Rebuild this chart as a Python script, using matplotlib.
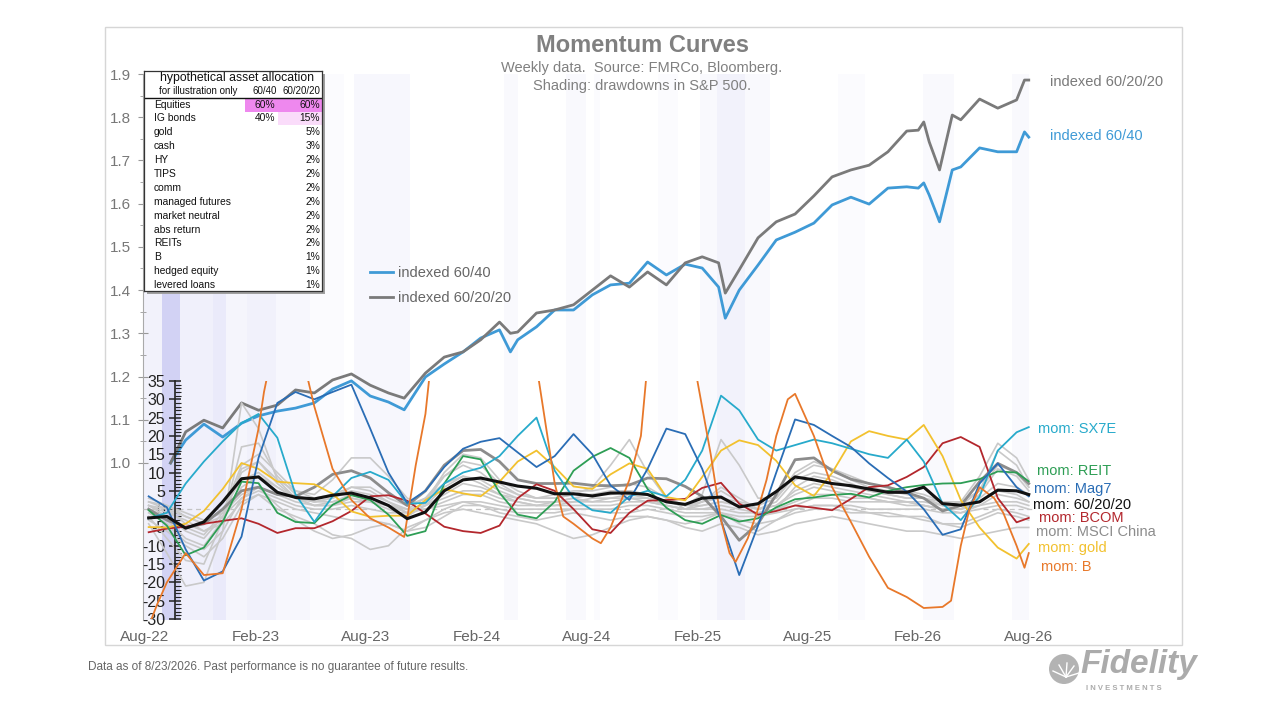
"""Momentum curves: indexed 60/40 vs 60/20/20 plus asset momentum lines."""

import matplotlib

matplotlib.use("Agg")
import matplotlib.pyplot as plt
import matplotlib.dates as mdates
import pandas as pd
from matplotlib.lines import Line2D
from matplotlib.patches import Circle, Rectangle
from matplotlib.ticker import FixedLocator, FormatStrFormatter, MultipleLocator
from matplotlib.transforms import IdentityTransform

plt.rcParams["font.family"] = ["Liberation Sans", "DejaVu Sans"]
plt.rcParams["axes.unicode_minus"] = False

W, H = 1280, 720

# ---------------------------------------------------------------- data
INDEX_DATES = [
    "2022-10-07", "2022-11-01", "2022-12-01", "2023-01-01", "2023-02-01",
    "2023-03-01", "2023-04-01", "2023-05-01", "2023-06-01", "2023-07-01",
    "2023-08-01", "2023-09-01", "2023-10-01", "2023-10-27", "2023-12-01",
    "2024-01-01", "2024-02-01", "2024-03-01", "2024-04-01", "2024-04-19",
    "2024-05-01", "2024-06-01", "2024-07-01", "2024-08-01", "2024-09-01",
    "2024-10-01", "2024-11-01", "2024-12-01", "2025-01-01", "2025-02-01",
    "2025-03-01", "2025-03-28", "2025-04-08", "2025-05-01", "2025-06-01",
    "2025-07-01", "2025-08-01", "2025-09-01", "2025-10-01", "2025-11-01",
    "2025-12-01", "2026-01-01", "2026-02-01", "2026-02-20", "2026-03-01",
    "2026-03-10", "2026-03-27", "2026-04-17", "2026-05-01", "2026-06-01",
    "2026-07-01", "2026-08-01", "2026-08-14", "2026-08-21",
]
INDEX_6040 = [
    1.000, 1.053, 1.090, 1.060, 1.092, 1.109, 1.120, 1.127, 1.139, 1.171,
    1.190, 1.155, 1.141, 1.123, 1.199, 1.229, 1.257, 1.289, 1.308, 1.257,
    1.285, 1.315, 1.354, 1.354, 1.389, 1.412, 1.416, 1.465, 1.435, 1.460,
    1.451, 1.407, 1.335, 1.400, 1.458, 1.516, 1.534, 1.555, 1.597, 1.615,
    1.599, 1.636, 1.639, 1.636, 1.648, 1.620, 1.558, 1.678, 1.685, 1.729,
    1.720, 1.720, 1.766, 1.754,
]
INDEX_602020 = [
    1.000, 1.072, 1.099, 1.081, 1.139, 1.122, 1.134, 1.169, 1.162, 1.192,
    1.206, 1.180, 1.162, 1.150, 1.208, 1.245, 1.257, 1.285, 1.326, 1.300,
    1.303, 1.347, 1.354, 1.366, 1.400, 1.433, 1.407, 1.442, 1.412, 1.463,
    1.477, 1.463, 1.393, 1.447, 1.521, 1.558, 1.576, 1.618, 1.662, 1.678,
    1.689, 1.720, 1.768, 1.770, 1.789, 1.743, 1.678, 1.805, 1.794, 1.842,
    1.821, 1.840, 1.886, 1.886,
]

# momentum series, monthly from Sep 2022 plus the last week
MOM_DATES = list(pd.date_range("2022-09-01", "2026-08-01", freq="MS")) + [
    pd.Timestamp("2026-08-21")
]
MOM_MAG7 = [3.5, 0.5, -11, -19.5, -17, -7.5, 14, 29, 32, 30,
            32, 34, 22, 10, 1.7, 5, 11.5, 16.5, 18.4, 19.4,
            15.5, 11.5, 14.5, 20.5, 15, 6.5, 2.5, 11, 22, 20.5,
            11, -3, -18, -4.5, 10, 24.5, 23, 20, 17, 12.5,
            8.5, 4.8, 0, -7, -5.5, 7, 12.5, 6, 3.5]
MOM_SX7E = [-2.5, -1, 7, 13, 18.5, 23.5, 26, 19.5, 4, -3.5,
            3.5, 8.5, 10.2, 8, 1.5, 1.7, 7, 10, 11.3, 14.5,
            20, 25, 10.5, 3, -0.3, -1, 3.5, 5, 3.5, 8,
            16, 31, 27, 19, 16, 17.5, 19, 18, 16.5, 15,
            14, 19, 13, 1.5, -3, 3.5, 16, 21, 22.4]
MOM_REIT = [-0.3, -4.5, -12.6, -10.5, -3.5, 7.5, 7.1, -1, -3.5, -3.8,
            1.2, 3.8, 2.5, -1.5, -7.3, -6, 7, 14.5, 13.6, 4.5,
            -1.5, -2.5, 2, 10.5, 14.3, 16.7, 14, 5.5, 0.4, -3,
            -4, -1.6, -3.4, -2.5, 0.5, 2.7, 3.2, 3.9, 4.2, 3.2,
            5, 6, 6.6, 7, 7.1, 8.2, 10.3, 10, 7.6]
MOM_BCOM = [-6.3, -5.3, -4.8, -4, -3.2, -2.5, -4, -6.5, -5.2, -5.2,
            -3.3, -0.5, 3.5, 3.8, 2.3, -1.2, -4.8, -6, -6.5, -4.5,
            3, 6.8, 5, 0, -5.5, -6.5, -1, 2.3, 2.5, 2.8,
            5.8, 7.2, 1.5, -1.5, -0.5, 1, 0.4, -0.3, 2.8, 6,
            6.5, 8.8, 11.5, 18, 19.7, 17, 3, -3.6, -2.4]
MOM_GOLD = [-4.9, -5, -4, -0.5, 5.5, 12.6, 11, 7.5, 7.1, 6.8,
            4.2, -0.6, -2.1, -1.8, -1.8, 2.5, 5.5, 4.3, 3.5, 7.5,
            13, 16, 11.5, 6.2, 5.5, 9.5, 12.5, 11, 3.3, 2.4,
            8.8, 16, 18.8, 17.5, 13.2, 6.5, 3.6, 9.9, 18.5, 21.3,
            20, 19, 23, 14.5, 2.5, -5, -10.5, -13.5, -9.5]
MOM_CHINA = [0, -3, -5, -4, 0, 5, 6, 4, 3.5, 6,
             9.5, 10.5, 8.5, 4.5, 1, 5, 12, 16, 16.3, 13,
             8, 7, 7, 7.1, 6.5, 6.4, 6.6, 8.5, 8.3, 6.2,
             3.5, -2, -8.5, -4, 4, 13.5, 14, 10.5, 8.2, 7,
             6, 4.5, 3, -0.5, 1, 7.5, 12.5, 10, 7]
MOM_602020 = [-2.4, -2, -5.2, -3.5, 2, 8.3, 8.8, 4.6, 3.2, 2.8,
              3.8, 4.4, 3.1, 1, -2.6, -0.8, 5, 8, 8.5, 7.4,
              6.3, 5.7, 4.2, 4.2, 3.6, 4.4, 4.4, 4, 2, 1.3,
              3, 3.3, 0.6, 1.5, 4.8, 8.8, 8, 7, 6.4, 5.5,
              4.6, 4.6, 6, 1.5, 1.1, 2, 5.2, 5, 4]

# the B line spikes off the scale, so it is read on its own dates
B_DATES = [
    "2022-09-01", "2022-09-15", "2022-10-01", "2022-11-01", "2022-12-01",
    "2023-01-01", "2023-02-01", "2023-03-01", "2023-03-10", "2023-03-20",
    "2023-04-15", "2023-05-22", "2023-06-01", "2023-07-01", "2023-08-01",
    "2023-09-01", "2023-10-01", "2023-10-27", "2023-11-15", "2023-12-01",
    "2023-12-10", "2024-03-01", "2024-06-05", "2024-07-01", "2024-07-15",
    "2024-08-01", "2024-09-01", "2024-09-15", "2024-10-01", "2024-11-01",
    "2024-11-20", "2024-12-01", "2025-01-15", "2025-02-20", "2025-03-15",
    "2025-04-01", "2025-04-15", "2025-04-25", "2025-05-15", "2025-06-01",
    "2025-06-15", "2025-07-01", "2025-07-20", "2025-08-01", "2025-09-01",
    "2025-10-01", "2025-11-01", "2025-12-01", "2026-01-01", "2026-02-01",
    "2026-03-01", "2026-04-01", "2026-04-15", "2026-05-01", "2026-05-15",
    "2026-06-01", "2026-06-25", "2026-07-10", "2026-08-01", "2026-08-14",
    "2026-08-21",
]
MOM_B = [-32, -26, -20, -12, -18, -17.5, 0, 22, 32, 40,
         55, 35, 28, 11, 2.5, -2.5, -5, -7.6, 12, 26,
         40, 60, 35, 7, -2, -4, -8, -9.3, -5, 8,
         20, 40, 60, 36, 15, -3, -12, -14.4, -8, 0,
         8, 20, 30, 31.5, 20, 6, -3.5, -13, -21.5, -24,
         -27, -26.7, -25, -10, -0.2, 6, 3, -1, -10, -16,
         -12]

# unlabeled momentum lines (light grey bundle)
MOM_OTHERS = [
    [-4, -12, -21, -20, -6, 29, 22, 8, 3, 1, 1, 3, 2, 0, -2, 1, 6, 9, 7, 4,
     2, 1, 2, 3, 2, 3, 4, 3, 1, 0, 1, 2, 1, 0, 1, 4, 6, 5, 4, 3,
     2, 2, 1, 0, 0, 2, 5, 4, 2],
    [-2, -8, -14, -15, -3, 17, 18, 9, 4, 2, 3, 6, 5, 2, -1, 2, 9, 13, 12, 7,
     4, 3, 3, 4, 6, 12, 19, 10, 3, 0, 2, 6, 3, 0, 2, 8, 10, 9, 7, 5,
     4, 3, 3, 1, 0, 4, 11, 9, 5],
    [1, -2, -6, -8, -2, 10, 13, 8, 5, 4, 8, 14, 14, 9, 3, 1, 4, 7, 6, 4,
     3, 2, 2, 3, 4, 5, 5, 4, 2, 1, 4, 19, 12, 3, 3, 9, 12, 11, 9, 7,
     6, 5, 4, 2, 1, 5, 16, 12, 6],
    [2, 0, -4, -6, -3, 6, 9, 6, 3, 2, 2, 3, 2, 1, 0, 1, 3, 5, 5, 3,
     2, 1, 1, 2, 2, 2, 3, 2, 1, 0, 0, 1, 0, -1, 0, 2, 4, 4, 3, 3,
     2, 2, 1, 0, -1, 1, 4, 3, 2],
    [-1, -4, -9, -11, -6, 3, 6, 1, -3, -6, -8, -7, -5, -4, -6, -3, 0, 2, 1, -1,
     -2, -3, -2, -1, -2, -3, -2, -2, -3, -4, -3, -1, -4, -6, -3, 0, 1, 1, 0, -1,
     -1, -2, -2, -4, -5, -3, -1, -2, -3],
    [0, -2, -5, -7, -1, 12, 15, 10, 5, 3, 4, 6, 6, 3, 1, 3, 7, 9, 8, 5,
     3, 2, 2, 2, 3, 3, 3, 3, 2, 1, 1, 2, 1, 0, 1, 5, 7, 6, 5, 4,
     3, 2, 2, 1, 1, 3, 7, 6, 4],
    [1, -1, -3, -6, -4, 2, 4, 0, -2, -4, -7, -8, -11, -10, -5, -3, -1, 0, -1, -2,
     -3, -4, -6, -8, -7, -5, -3, -2, -3, -5, -6, -4, -5, -7, -6, -4, -3, -2, -3, -4,
     -5, -6, -6, -7, -8, -7, -6, -5, -5],
    [2, 1, -1, -3, -1, 4, 6, 4, 2, 1, 1, 2, 2, 1, 0, 0, 2, 4, 4, 2,
     1, 1, 1, 1, 1, 1, 2, 2, 1, 0, 0, 0, -1, -1, 0, 1, 3, 3, 2, 2,
     2, 1, 1, 0, 0, 1, 2, 2, 1],
    [0, -3, -8, -10, -3, 11, 13, 7, 3, 1, 2, 4, 3, 1, -1, 2, 10, 15, 14, 8,
     5, 3, 4, 5, 5, 6, 7, 6, 3, 1, 2, 5, 2, -2, 0, 6, 9, 8, 6, 5,
     4, 3, 3, 1, 2, 9, 18, 14, 8],
    [1, 0, -2, -4, -2, 3, 5, 3, 1, 0, 0, 1, 0, -1, -1, 0, 1, 2, 2, 1,
     0, 0, 0, 0, 0, 0, 1, 1, 0, -1, -1, -1, -2, -2, -1, 0, 1, 1, 1, 0,
     0, 0, 0, -1, -1, 0, 1, 1, 0],
    [-3, -6, -10, -13, -8, 1, 4, 2, 0, -1, -2, -3, -3, -4, -6, -5, -2, 1, 1, 0,
     -1, -1, -1, 0, 0, -1, -1, 0, -1, -2, -2, -1, -3, -4, -3, -1, 0, 0, -1, -1,
     -2, -2, -3, -4, -4, -2, 0, -1, -2],
    [3, 1, -2, -4, 0, 8, 10, 6, 3, 2, 3, 5, 4, 2, 0, 3, 9, 12, 10, 6,
     4, 3, 3, 4, 4, 4, 5, 4, 2, 1, 2, 3, 2, 1, 3, 10, 13, 11, 8, 6,
     5, 4, 3, 2, 2, 5, 12, 10, 6],
]

# S&P 500 drawdown periods and their shading depth
SHADE_START = [
    "2022-08-22", "2022-09-23", "2022-10-23", "2022-12-16", "2023-01-06",
    "2023-02-10", "2023-03-30", "2023-05-25", "2023-08-05", "2024-04-08",
    "2024-07-20", "2024-09-03", "2024-12-18", "2025-02-25", "2025-03-25",
    "2025-10-10", "2026-02-27", "2026-07-25",
]
SHADE_END = [
    "2022-09-23", "2022-10-23", "2022-12-16", "2023-01-06", "2023-02-10",
    "2023-03-30", "2023-05-25", "2023-07-20", "2023-11-05", "2024-05-01",
    "2024-08-22", "2024-09-13", "2025-01-20", "2025-06-20", "2025-05-10",
    "2025-11-25", "2026-04-20", "2026-08-21",
]
SHADE_DEPTH = [0.12, 0.44, 0.14, 0.2, 0.09, 0.13, 0.07, 0.04, 0.07, 0.05,
               0.06, 0.04, 0.04, 0.06, 0.07, 0.04, 0.06, 0.05]

TICK_DATES = ["2022-08-26", "2023-02-24", "2023-08-25", "2024-02-23",
              "2024-08-23", "2025-02-21", "2025-08-22", "2026-02-20",
              "2026-08-21"]

ALLOC_ASSETS = ["Equities", "IG bonds", "gold", "cash", "HY", "TIPS", "comm",
                "managed futures", "market neutral", "abs return", "REITs",
                "B", "hedged equity", "levered loans"]
ALLOC_6040 = [60, 40, None, None, None, None, None, None, None, None, None,
              None, None, None]
ALLOC_602020 = [60, 15, 5, 3, 2, 2, 2, 2, 2, 2, 2, 1, 1, 1]

# ---------------------------------------------------------------- style
C_6040 = "#3f9ad6"
C_602020 = "#7a7a7a"
MOM_STYLE = [
    # (values, colour, width, label, label y in px, label x in px)
    (MOM_CHINA, "#8c8c8c", 2.0, "mom: MSCI China", 532, 1036),
    (MOM_BCOM, "#b3272d", 1.3, "mom: BCOM", 518, 1039),
    (MOM_GOLD, "#f2c12e", 1.3, "mom: gold", 548, 1038),
    (MOM_REIT, "#2e9e55", 1.3, "mom: REIT", 471, 1037),
    (MOM_SX7E, "#27aacb", 1.3, "mom: SX7E", 429, 1038),
    (MOM_MAG7, "#2a6db5", 1.3, "mom: Mag7", 489, 1034),
]


def px_box(left, top, right, bottom):
    return [left / W, 1 - bottom / H, (right - left) / W, (bottom - top) / H]


fig = plt.figure(figsize=(W / 100, H / 100), dpi=100)
fig.patches.append(Rectangle((105 / W, 1 - 645 / H), 1077 / W, 618 / H,
                             transform=fig.transFigure, facecolor="none",
                             edgecolor="#d6d6d6", lw=1.0, zorder=0))

ax = fig.add_axes(px_box(143, 74, 1033, 620))
ax2 = fig.add_axes(px_box(143, 381, 1033, 619), sharex=ax)

# shading
for start, end, depth in zip(SHADE_START, SHADE_END, SHADE_DEPTH):
    ax.axvspan(pd.Timestamp(start), pd.Timestamp(end), color="#9a9ae6",
               alpha=depth, lw=0, zorder=0)

idx_dates = pd.to_datetime(INDEX_DATES)
line_6040, = ax.plot(idx_dates, INDEX_6040, color=C_6040, lw=2.0,
                     label="indexed 60/40", zorder=3)
line_602020, = ax.plot(idx_dates, INDEX_602020, color=C_602020, lw=2.0,
                       label="indexed 60/20/20", zorder=3)

ax.set_xlim(pd.Timestamp("2022-08-22 16:00"), pd.Timestamp("2026-08-28"))
ax.set_ylim(0.6367, 1.9)
ax.yaxis.set_major_locator(FixedLocator([1.0, 1.1, 1.2, 1.3, 1.4, 1.5,
                                         1.6, 1.7, 1.8, 1.9]))
ax.yaxis.set_minor_locator(FixedLocator([1.05, 1.15, 1.25, 1.35, 1.45,
                                         1.55, 1.65, 1.75, 1.85]))
ax.yaxis.set_major_formatter(FormatStrFormatter("%.1f"))
ax.xaxis.set_major_locator(FixedLocator(mdates.date2num(pd.to_datetime(TICK_DATES))))
ax.xaxis.set_major_formatter(mdates.DateFormatter("%b-%y"))
ax.tick_params(axis="y", which="major", direction="inout", length=7,
               width=0.8, color="#999999", labelsize=11, labelcolor="#777777",
               pad=5)
ax.tick_params(axis="y", which="minor", direction="inout", length=4,
               width=0.6, color="#999999")
ax.tick_params(axis="x", length=0, labelsize=11, labelcolor="#666666", pad=7)
for side in ("top", "right", "bottom"):
    ax.spines[side].set_visible(False)
ax.spines["left"].set_color("#aaaaaa")
ax.spines["left"].set_linewidth(0.8)

ax.legend(handles=[line_6040, line_602020], loc="upper left",
          bbox_to_anchor=(370 / W, 1 - 266 / H), bbox_transform=fig.transFigure,
          frameon=False, fontsize=10.5, labelcolor="#666666", handlelength=1.6,
          handletextpad=0.3, labelspacing=0.75, borderpad=0, borderaxespad=0)

# momentum panel
ax2.set_facecolor("none")
ax2.set_ylim(-30, 35)
for side in ("top", "right", "bottom"):
    ax2.spines[side].set_visible(False)
ax2.spines["left"].set_position(("axes", (175 - 143) / 890))
ax2.spines["left"].set_color("#222222")
ax2.spines["left"].set_linewidth(1.2)
ax2.yaxis.set_major_locator(MultipleLocator(5))
ax2.yaxis.set_minor_locator(MultipleLocator(1))
ax2.tick_params(axis="y", which="major", direction="inout", length=8,
                width=1.1, color="#222222", labelsize=11.5,
                labelcolor="#222222", pad=3)
ax2.tick_params(axis="y", which="minor", direction="in", length=4,
                width=0.8, color="#222222")
ax2.tick_params(axis="x", which="both", bottom=False, labelbottom=False)

ax2.axhline(0, color="#c4c4c4", lw=0.9, ls=(0, (4, 3)), zorder=1)
for values in MOM_OTHERS:
    ax2.plot(MOM_DATES, values, color="#c9c9c9", lw=1.2, zorder=2)
for values, colour, width, _, _, _ in MOM_STYLE:
    ax2.plot(MOM_DATES, values, color=colour, lw=width, zorder=3)
ax2.plot(pd.to_datetime(B_DATES), MOM_B, color="#e8782a", lw=1.3, zorder=3)
ax2.plot(MOM_DATES, MOM_602020, color="#111111", lw=2.2, zorder=4)

# right-hand labels
fig.text(1050 / W, 1 - 82 / H, "indexed 60/20/20", color=C_602020,
         fontsize=10.5, va="center")
fig.text(1050 / W, 1 - 136 / H, "indexed 60/40", color=C_6040,
         fontsize=10.5, va="center")
for _, colour, _, label, y_px, x_px in MOM_STYLE:
    fig.text(x_px / W, 1 - y_px / H, label, color=colour, fontsize=10.5,
             va="center")
fig.text(1033 / W, 1 - 505 / H, "mom: 60/20/20", color="#111111",
         fontsize=10.5, va="center")
fig.text(1041 / W, 1 - 567 / H, "mom: B", color="#e8782a", fontsize=10.5,
         va="center")

# titles
fig.text(642 / W, 1 - 46 / H, "Momentum Curves", ha="center", va="center",
         fontsize=17, fontweight="bold", color="#808080")
fig.text(642 / W, 1 - 68 / H, "Weekly data.  Source: FMRCo, Bloomberg.",
         ha="center", va="center", fontsize=10.5, color="#808080")
fig.text(642 / W, 1 - 86 / H, "Shading: drawdowns in S&P 500.",
         ha="center", va="center", fontsize=10.5, color="#808080")

# allocation table
fig.patches.append(Rectangle((147 / W, 1 - 294 / H), 178 / W, 220 / H,
                             transform=fig.transFigure, facecolor="#a0a0a0",
                             lw=0, zorder=4))
tab = fig.add_axes(px_box(144, 71, 322, 291))
tab.set_zorder(5)
tab.set_xlim(0, 178)
tab.set_ylim(220, 0)
tab.set_xticks([])
tab.set_yticks([])
for spine in tab.spines.values():
    spine.set_color("#333333")
    spine.set_linewidth(0.9)
tab.text(93, 6.5, "hypothetical asset allocation", ha="center", va="center",
         fontsize=8.8, color="#111111")
tab.text(15, 20.5, "for illustration only", ha="left", va="center",
         fontsize=7, color="#111111")
tab.text(133, 20.5, "60/40", ha="right", va="center", fontsize=7,
         color="#111111")
tab.text(176, 20.5, "60/20/20", ha="right", va="center", fontsize=7,
         color="#111111")
tab.plot([0, 178], [27, 27], color="#111111", lw=1.0)
tab.add_patch(Rectangle((101, 28), 33, 12.5, facecolor="#ee88ee", lw=0))
tab.add_patch(Rectangle((134, 28), 44, 12.5, facecolor="#ee88ee", lw=0))
tab.add_patch(Rectangle((134, 41), 44, 12.5, facecolor="#fadcfa", lw=0))
for i, asset in enumerate(ALLOC_ASSETS):
    y = 33.5 + 13.9 * i
    tab.text(10, y, asset, ha="left", va="center", fontsize=7.4,
             color="#111111")
    if ALLOC_6040[i] is not None:
        tab.text(131, y, f"{ALLOC_6040[i]}%", ha="right", va="center",
                 fontsize=7.4, color="#111111")
    tab.text(176, y, f"{ALLOC_602020[i]}%", ha="right", va="center",
             fontsize=7.4, color="#111111")

# footer and logo
fig.text(88 / W, 1 - 667 / H,
         "Data as of 8/23/2026. Past performance is no guarantee of future results.",
         fontsize=8.5, color="#666666", va="center")
fig.text(1080 / W, 1 - 665 / H, "Fidelity", fontsize=24, fontweight="bold",
         style="italic", color="#ababab", va="center")
fig.text(1086 / W, 1 - 688 / H, "I N V E S T M E N T S", fontsize=5.5,
         fontweight="bold", color="#ababab", va="center")
fig.patches.append(Circle((1064, H - 669), 15, transform=IdentityTransform(),
                          facecolor="#b3b3b3", lw=0, zorder=3))
for dx, dy in [(-13, 6), (-7, 12), (1, 14), (8, 11), (13, 4)]:
    fig.lines.append(Line2D([1066, 1066 + dx], [H - 677, H - 677 + dy],
                            transform=IdentityTransform(), color="white",
                            lw=1.0, zorder=3.5))

fig.savefig("out.png", dpi=100)
